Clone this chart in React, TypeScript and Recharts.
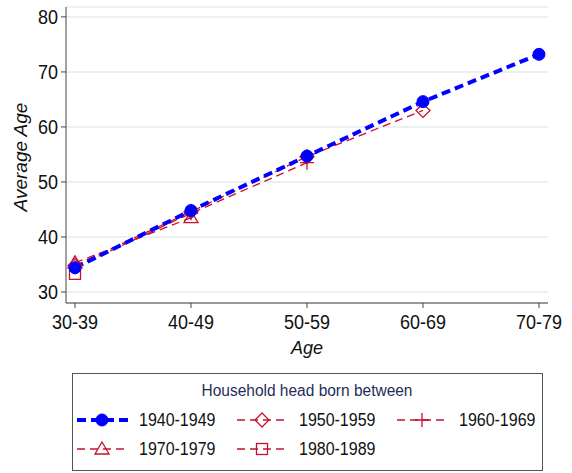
import React from 'react';
import { LineChart, Line, XAxis, YAxis, CartesianGrid } from 'recharts';

const categories = ['30-39', '40-49', '50-59', '60-69', '70-79'];
const s1940 = [34.4, 44.8, 54.7, 64.6, 73.2];
const s1950 = [34.8, 44.6, 54.6, 63.0, null];
const s1960 = [34.5, 44.3, 53.5, null, null];
const s1970 = [35.3, 43.5, null, null, null];
const s1980 = [33.3, null, null, null, null];
const yTicks = [30, 40, 50, 60, 70, 80];
const legendTitle = 'Household head born between';
const seriesNames = ['1940-1949', '1950-1959', '1960-1969', '1970-1979', '1980-1989'];

const data = categories.map((c, i) => ({
  cat: c,
  a: s1940[i],
  b: s1950[i],
  c: s1960[i],
  d: s1970[i],
  e: s1980[i],
}));

const BLUE = '#0000ff';
const RED = '#c8102e';
const FONT = '"Liberation Sans", Arial, sans-serif';

type Kind = 'circle' | 'diamond' | 'plus' | 'triangle' | 'square';

const Marker = ({ kind, cx, cy }: { kind: Kind; cx: number; cy: number }) => {
  if (cx == null || cy == null || isNaN(cx) || isNaN(cy)) return null;
  switch (kind) {
    case 'circle':
      return <circle cx={cx} cy={cy} r={6} fill={BLUE} stroke={BLUE} />;
    case 'diamond':
      return (
        <polygon
          points={`${cx},${cy - 7} ${cx + 7},${cy} ${cx},${cy + 7} ${cx - 7},${cy}`}
          fill="none"
          stroke={RED}
          strokeWidth={1.3}
        />
      );
    case 'plus':
      return (
        <path d={`M${cx - 7},${cy}H${cx + 7}M${cx},${cy - 7}V${cy + 7}`} stroke={RED} strokeWidth={1.3} />
      );
    case 'triangle':
      return (
        <polygon
          points={`${cx},${cy - 7} ${cx + 7},${cy + 5} ${cx - 7},${cy + 5}`}
          fill="none"
          stroke={RED}
          strokeWidth={1.3}
        />
      );
    case 'square':
      return <rect x={cx - 5.5} y={cy - 5.5} width={11} height={11} fill="none" stroke={RED} strokeWidth={1.3} />;
  }
  return null;
};

const dotFor = (kind: Kind) => (props: any) => (
  <Marker key={`${kind}-${props.index}`} kind={kind} cx={props.cx} cy={props.cy} />
);

const YTick = (props: any) => {
  const { x, y, payload } = props;
  return (
    <g transform={`translate(${x},${y}) scale(1,1.12)`}>
      <text x={0} y={0} dy="0.36em" textAnchor="end" fontSize={18} fontFamily={FONT} fill="#111">
        {payload.value}
      </text>
    </g>
  );
};

const XTick = (props: any) => {
  const { x, y, payload } = props;
  return (
    <g transform={`translate(${x},${y}) scale(1,1.12)`}>
      <text x={0} y={17} textAnchor="middle" fontSize={18} fontFamily={FONT} fill="#111">
        {payload.value}
      </text>
    </g>
  );
};

const YLabel = () => (
  <text
    x={20}
    y={157}
    transform="rotate(-90 20 157)"
    textAnchor="middle"
    dominantBaseline="central"
    fontSize={19}
    fontStyle="italic"
    fontFamily={FONT}
    fill="#111"
  >
    Average Age
  </text>
);

const XLabel = () => (
  <text x={307} y={354} textAnchor="middle" fontSize={18} fontStyle="italic" fontFamily={FONT} fill="#111">
    Age
  </text>
);

const kinds: Kind[] = ['circle', 'diamond', 'plus', 'triangle', 'square'];

const LegendItem = ({ x, y, i }: { x: number; y: number; i: number }) => {
  const blue = i === 0;
  return (
    <g>
      <line
        x1={x}
        y1={y}
        x2={x + 52}
        y2={y}
        stroke={blue ? BLUE : RED}
        strokeWidth={blue ? 4 : 1.3}
        strokeDasharray={blue ? '9 5' : '8 5'}
      />
      <Marker kind={kinds[i]} cx={x + 25} cy={y} />
      <g transform={`translate(${x + 62},${y}) scale(1,1.1)`}>
        <text x={0} y={0} dy="0.36em" fontSize={16} fontFamily={FONT} fill="#111">
          {seriesNames[i]}
        </text>
      </g>
    </g>
  );
};

const LegendBox = () => (
  <svg width={572} height={473} style={{ position: 'absolute', left: 0, top: 0, pointerEvents: 'none' }}>
    <rect x={72.5} y={373.5} width={470} height={97} fill="#fff" stroke="#555" strokeWidth={1} />
    <g transform="translate(307,390) scale(1,1.1)">
      <text x={0} y={0} dy="0.36em" textAnchor="middle" fontSize={15.5} fontFamily={FONT} fill="#1f2d5a">
        {legendTitle}
      </text>
    </g>
    <LegendItem x={77} y={420} i={0} />
    <LegendItem x={237} y={420} i={1} />
    <LegendItem x={397} y={420} i={2} />
    <LegendItem x={77} y={449} i={3} />
    <LegendItem x={237} y={449} i={4} />
  </svg>
);

export default function App() {
  return (
    <div style={{ position: 'absolute', left: 0, top: 0, width: 572, height: 473, background: '#fff' }}>
      <LineChart width={572} height={473} data={data} margin={{ top: 7, right: 24, left: 0, bottom: 120 }}>
        <CartesianGrid vertical={false} stroke="#e4ecee" strokeWidth={1.5} />
        <XAxis
          dataKey="cat"
          height={50}
          padding={{ left: 9, right: 9 }}
          tick={<XTick />}
          tickSize={5}
          tickMargin={2}
          stroke="#444"
          interval={0}
        />
        <YAxis
          width={66}
          domain={[28, 81.8]}
          ticks={yTicks}
          allowDataOverflow
          tick={<YTick />}
          tickSize={5}
          tickMargin={3}
          stroke="#444"
          interval={0}
        />
        <Line dataKey="e" stroke={RED} strokeWidth={1.3} strokeDasharray="8 5" dot={dotFor('square')} isAnimationActive={false} connectNulls={false} />
        <Line dataKey="d" stroke={RED} strokeWidth={1.3} strokeDasharray="8 5" dot={dotFor('triangle')} isAnimationActive={false} />
        <Line dataKey="c" stroke={RED} strokeWidth={1.3} strokeDasharray="8 5" dot={dotFor('plus')} isAnimationActive={false} />
        <Line dataKey="b" stroke={RED} strokeWidth={1.3} strokeDasharray="8 5" dot={dotFor('diamond')} isAnimationActive={false} />
        <Line dataKey="a" stroke={BLUE} strokeWidth={4} strokeDasharray="9 5" dot={dotFor('circle')} isAnimationActive={false} />
        <YLabel />
        <XLabel />
      </LineChart>
      <LegendBox />
    </div>
  );
}
